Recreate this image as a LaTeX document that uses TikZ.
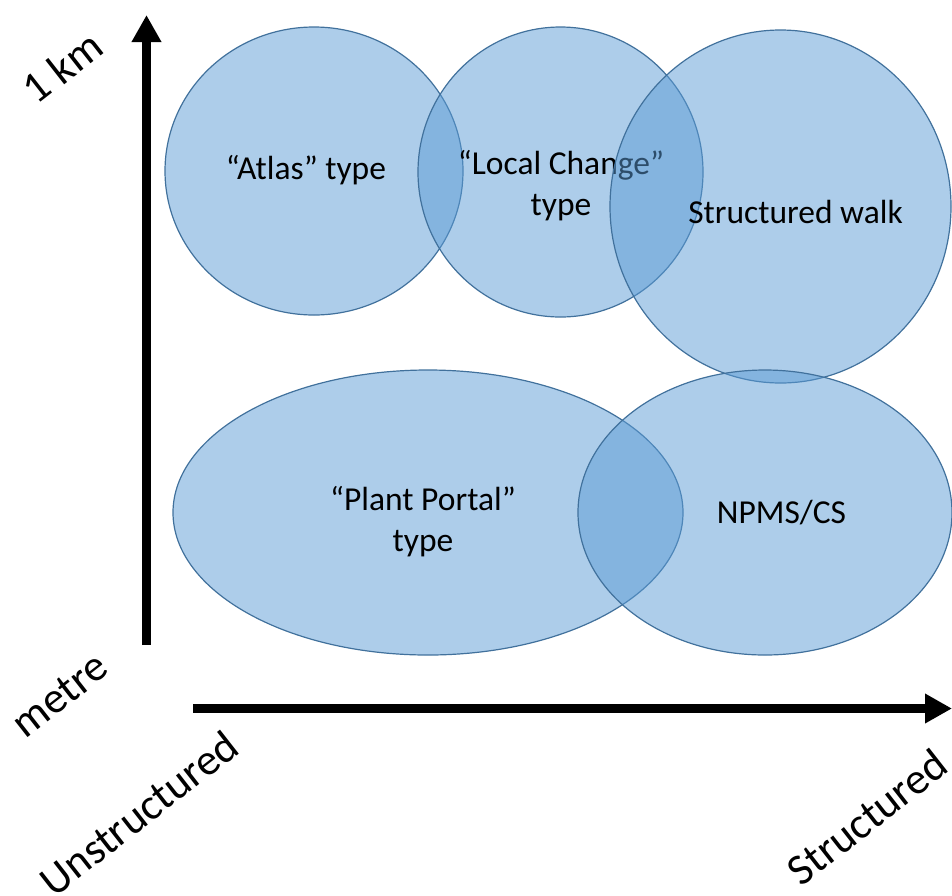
\documentclass[tikz,border=0pt]{standalone}
\usepackage{fontspec}
\setmainfont{Carlito}
\usetikzlibrary{arrows.meta,shapes.geometric}
\definecolor{blobfill}{HTML}{5B9BD5}
\definecolor{blobline}{HTML}{41719C}

\begin{document}
\begin{tikzpicture}[x=1pt,y=-1pt,>={Triangle[length=27pt,width=28pt]},
    blob/.style={ellipse,draw=blobline,fill=blobfill,fill opacity=0.5,line width=1.2pt,inner sep=0pt},
    txt/.style={align=center,font=\fontsize{33.5}{41}\selectfont},
    axis/.style={->,line width=9pt},
    axislabel/.style={font=\fontsize{44}{50}\selectfont,rotate=38}]

  \useasboundingbox (0,0) rectangle (952,895);

  % axes
  \coordinate (yfoot) at (146.5,645);
  \coordinate (ytip) at (146.5,15);
  \coordinate (xfoot) at (193,708.5);
  \coordinate (xtip) at (952,708.5);
  \draw[axis] (yfoot) -- (ytip);
  \draw[axis] (xfoot) -- (xtip);

  \node[axislabel] (km) at (62,67) {1 km};
  \node[axislabel] (metre) at (60,695) {metre};
  \node[axislabel] (unstr) at (139,813) {Unstructured};
  \node[axislabel] (str) at (867,817) {Structured};

  % top row
  \node[blob,minimum width=298,minimum height=288] (atlas) at (314,171) {};
  \node[txt] (atlastxt) at (306,170) {“Atlas” type};
  \node[blob,minimum width=285,minimum height=290] (local) at (560.5,172) {};
  \node[txt] (localtxt) at (561,186) {“Local Change”\\type};
  \node[blob,minimum width=341,minimum height=353] (walk) at (780.5,206.5) {};
  \node[txt] (walktxt) at (795.5,212) {Structured walk};

  % bottom row
  \node[blob,minimum width=510,minimum height=285] (portal) at (428,512.5) {};
  \node[txt] (portaltxt) at (423,522) {“Plant Portal”\\type};
  \node[blob,minimum width=374,minimum height=285] (npms) at (765,512.5) {};
  \node[txt] (npmstxt) at (781.5,513) {NPMS/CS};

\end{tikzpicture}
\end{document}
